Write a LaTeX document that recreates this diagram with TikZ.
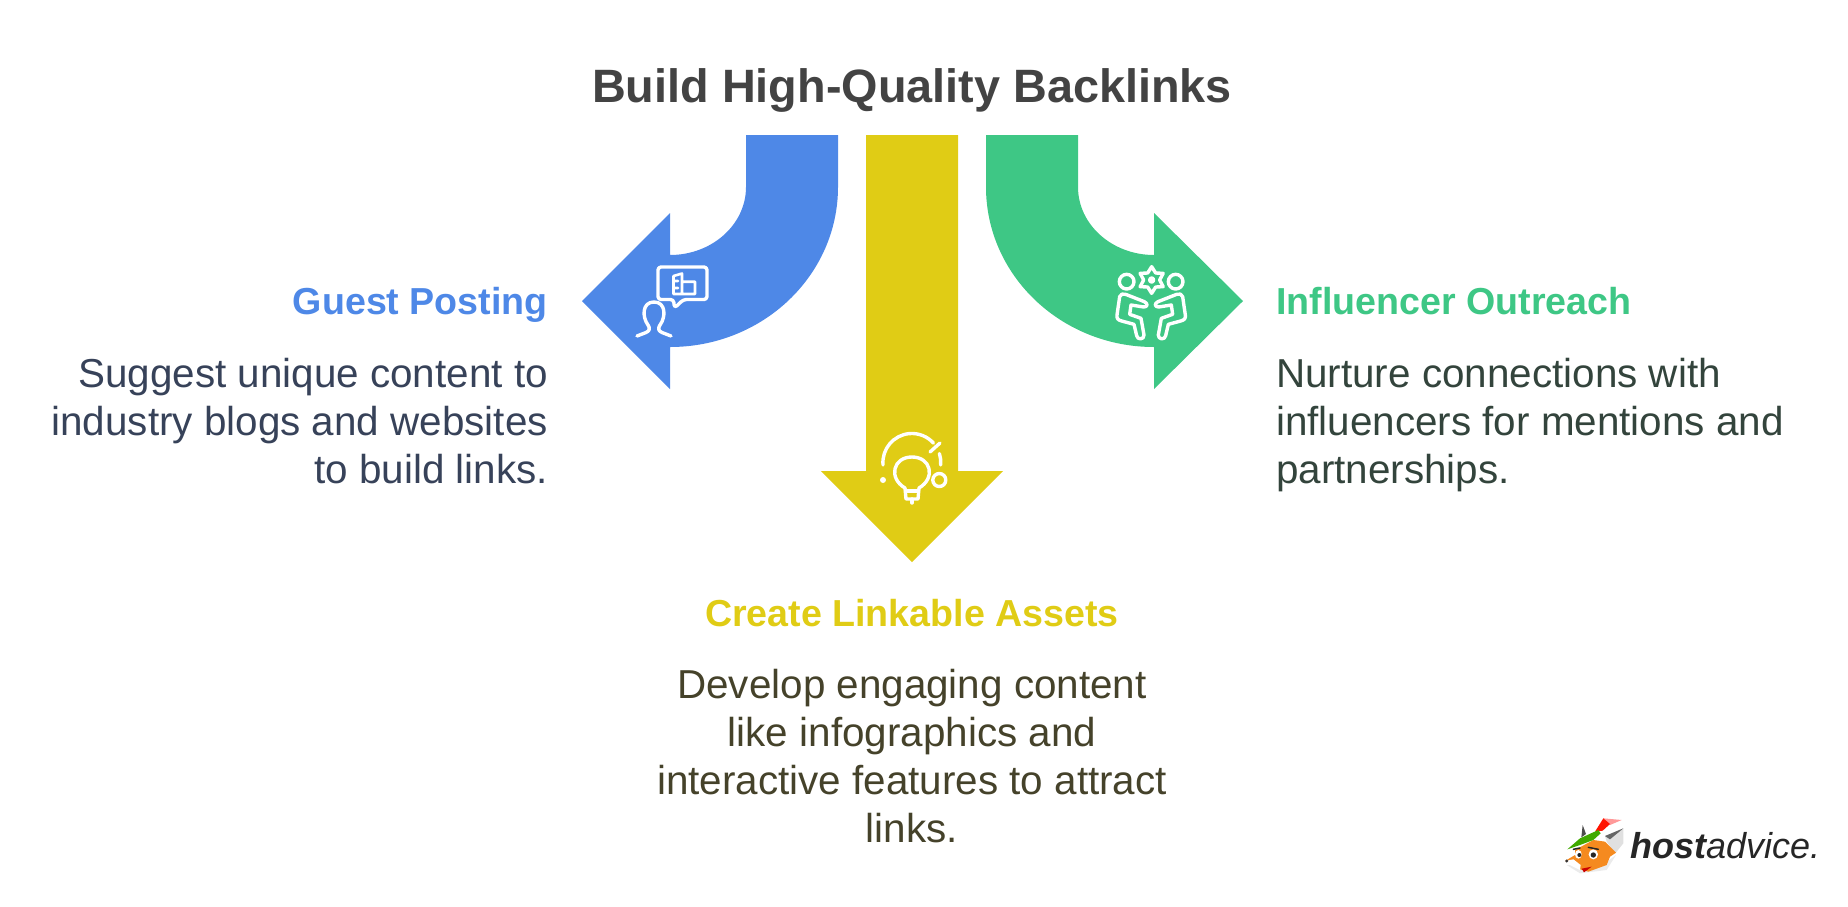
\documentclass[tikz,border=0pt]{standalone}
\usepackage{fontspec}
\setmainfont{Liberation Sans}
\usepackage{tikz}
\usetikzlibrary{positioning}
\definecolor{guestblue}{HTML}{4E88E7}
\definecolor{linkyellow}{HTML}{E0CC15}
\definecolor{outreachgreen}{HTML}{3EC785}
\definecolor{guesttext}{HTML}{374259}
\definecolor{linktext}{HTML}{45422A}
\definecolor{outreachtext}{HTML}{33443C}
\definecolor{titlegrey}{HTML}{434343}
\definecolor{foxorange}{HTML}{F58A1F}

\begin{document}
\begin{tikzpicture}[x=1pt,y=-1pt,
  title node/.style={inner sep=0pt,text=titlegrey,font=\fontsize{46.8}{54}\selectfont\bfseries},
  head node/.style={inner sep=0pt,text height=30pt,text depth=9pt,font=\fontsize{37.6}{48}\selectfont\bfseries},
  body node/.style={inner sep=0pt,font=\fontsize{40.4}{48}\selectfont},
  logo node/.style={inner sep=0pt,text=black!85,font=\fontsize{36}{44}\selectfont\itshape},
  icon line/.style={draw=white,line width=3.4pt,line cap=round,line join=round,fill=none}]
  \useasboundingbox (0,0) rectangle (1848,906);

  % arrows
  \fill[guestblue] (746,135) -- (838,135) -- (838,187)
    arc[start angle=0,end angle=90,x radius=168,y radius=160] -- (670,389) -- (582,301) -- (670,213) -- (670,255)
    arc[start angle=90,end angle=0,x radius=76,y radius=68] -- cycle;
  \fill[linkyellow] (866,135) -- (958,135) -- (958,471) -- (1003,471) -- (912,562) -- (821,471) -- (866,471) -- cycle;
  \fill[outreachgreen] (1078,135) -- (986,135) -- (986,187)
    arc[start angle=180,end angle=90,x radius=168,y radius=160] -- (1154,389) -- (1243,301) -- (1154,213) -- (1154,255)
    arc[start angle=90,end angle=180,x radius=76,y radius=68] -- cycle;

  % texts
  \node[title node] (0) at (912,90) {Build High-Quality Backlinks};
  \node[head node,text=guestblue,anchor=east] (1) at (548,304) {Guest Posting};
  \node[body node,text=guesttext,align=right] (2) [below=34pt of 1.south east,anchor=north east] {Suggest unique content to\\industry blogs and websites\\to build links.};
  \node[head node,text=outreachgreen,anchor=west] (3) at (1276,304) {Influencer Outreach};
  \node[body node,text=outreachtext,align=left] (4) [below=34pt of 3.south west,anchor=north west] {Nurture connections with\\influencers for mentions and\\partnerships.};
  \node[head node,text=linkyellow] (5) at (912,615.5) {Create Linkable Assets};
  \node[body node,text=linktext,align=center] (6) [below=34pt of 5.south,anchor=north] {Develop engaging content\\like infographics and\\interactive features to attract\\links.};

  % guest posting icon
  \draw[icon line,rounded corners=3pt] (683.5,299.5) -- (707,299.5) -- (707,267) -- (658,267) -- (658,299.5) -- (673.5,299.5) -- (674.5,308) -- cycle;
  \draw[icon line] (637,336) -- (646,332.5) .. controls (650,331) and (650,328) .. (648,325)
    .. controls (642,317) and (642,302) .. (654,302) .. controls (666,302) and (666,317) .. (660,325)
    .. controls (658,328) and (658,331) .. (662,332.5) -- (671,336);
  \draw[icon line,line width=2.6pt] (673.5,294) -- (673.5,276) -- (682,273.5) -- (682,294)
    (673.5,281) -- (678,281) (673.5,288) -- (678,288)
    (682,281.7) -- (695,281.7) -- (695,294) -- (673.5,294);

  % bulb icon
  \draw[icon line] (883,465) arc[start angle=175,end angle=318,radius=29];
  \draw[icon line] (940.7,465) arc[start angle=5,end angle=-18,radius=29];
  \draw[icon line] (930,452) -- (940,443);
  \fill[white] (883,480) circle (3pt);
  \draw[icon line] (939.3,480) circle (6.5);
  \draw[icon line] (905,488) .. controls (888,478) and (893,457) .. (912,457)
    .. controls (931,457) and (936,478) .. (919,488) -- (918,499) -- (906,499) -- cycle;
  \draw[icon line] (905.5,491) -- (918.5,491);
  \draw[icon line] (912,499) -- (912,503);

  % outreach icon
  \begin{scope}[shift={(1105,255)},x=0.3333pt,y=-0.3333pt]
    \foreach \flip in {0,277}{
      \begin{scope}[xshift=\flip*0.3333pt,xscale={\flip==0 ? 1 : -1}]
        \draw[icon line] (65,80) circle (22);
        \draw[icon line] (62,118) -- (118,140) .. controls (130,146) and (128,156) .. (116,156)
          -- (78,150) -- (74,178) -- (108,190) -- (117,240) .. controls (118,254) and (97,256) .. (95,242)
          -- (87,208) -- (50,198) .. controls (38,195) and (35,190) .. (36,180) -- (44,125) .. controls (46,117) and (54,115) .. (62,118);
      \end{scope}
    }
    \draw[icon line] (140,35) -- (152,54) -- (174.6,55) -- (164,75) -- (174.6,95) -- (152,96) -- (140,115)
      -- (128,96) -- (105.4,95) -- (116,75) -- (105.4,55) -- (128,54) -- cycle;
    \draw[icon line] (140,75) circle (6);
  \end{scope}

  % logo
  \node[logo node,anchor=west] (7) at (1630,846) {\bfseries host\mdseries advice.};
  \begin{scope}[shift={(1560,810)},x=0.3333pt,y=-0.3333pt]
    \fill[black!8] (20,165) -- (60,190) -- (140,180) -- (168,135) -- (120,170) -- cycle;
    \fill[black!70] (68,45) -- (78,72) -- (64,82) -- cycle;
    \fill[black!12] (135,78) -- (190,55) -- (190,100) -- (166,130) -- (140,95) -- cycle;
    \fill[black!60] (135,78) -- (190,55) -- (150,88) -- cycle;
    \fill[red!40] (130,25) -- (185,30) -- (150,45) -- cycle;
    \fill[red!85!orange] (105,65) -- (130,25) -- (150,42) -- (128,62) -- cycle;
    \fill[foxorange] (45,120) -- (100,90) -- (135,95) -- (168,128) -- (150,140) -- (140,165) -- (85,185) -- (60,178) -- (15,153) -- (45,135) -- cycle;
    \fill[green!55!black!75!yellow] (22,118) -- (60,85) -- (115,60) -- (122,70) -- (100,90) -- (60,105) -- cycle;
    \fill[white] (15,153) -- (40,148) -- (62,165) -- (60,180) -- (30,165) -- cycle;
    \fill[white] (55,133) ellipse (10 and 13);
    \fill[white] (100,133) ellipse (14 and 15);
    \fill[black!85] (58,135) circle (6);
    \fill[black!85] (100,135) circle (8);
    \draw[black!85,line width=1.5pt,line cap=round] (40,118) -- (60,114) (85,112) -- (115,118);
    \fill[red!80!black] (65,176) -- (95,170) -- (72,187) -- cycle;
    \fill[black!80] (20,153) circle (5);
  \end{scope}
\end{tikzpicture}
\end{document}
